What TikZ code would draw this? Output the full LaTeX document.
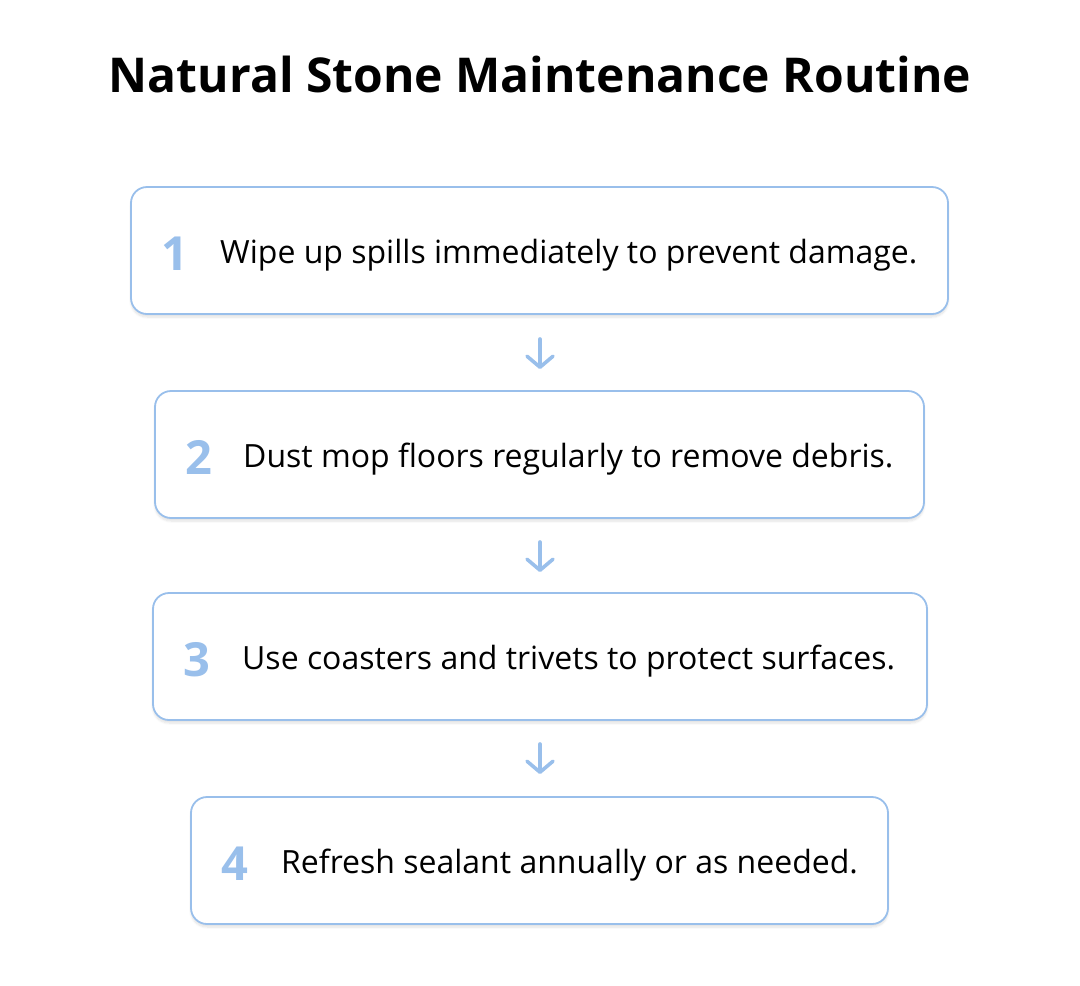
\documentclass[tikz,border=0pt]{standalone}
\usepackage{fontspec}
\setmainfont{Open Sans}
\usetikzlibrary{arrows.meta,shadows.blur}
\definecolor{bord}{HTML}{99BFEB}
\definecolor{numc}{HTML}{99BFEB}
\tikzset{
  stepbox/.style={draw=bord, line width=1.8pt, rounded corners=16pt, fill=white,
    blur shadow={shadow xshift=0pt, shadow yshift=-3pt, shadow blur steps=8, shadow opacity=12}},
  num/.style={font=\fontsize{47}{50}\selectfont\bfseries, text=numc, anchor=base, inner sep=0},
  lbl/.style={font=\fontsize{32}{38}\selectfont, anchor=base west, inner sep=0},
  flow/.style={draw=bord, line width=3.6pt, line cap=round, -{Straight Barb[length=11pt, width=26pt, line width=3.6pt, round]}}
}
\begin{document}
\begin{tikzpicture}[x=1pt, y=-1pt]
\useasboundingbox (0,0) rectangle (1080,986);
\node[font=\fontsize{48}{54}\selectfont\bfseries, inner sep=0, anchor=base] (title) at (540,92) {Natural Stone Maintenance Routine};

\draw[stepbox] (131,187) rectangle (948,314);
\draw[stepbox] (155,391) rectangle (924,518);
\draw[stepbox] (153,593) rectangle (927,720);
\draw[stepbox] (191,797) rectangle (888,924);

\node[num] (n1) at (175,270) {1};
\node[lbl] (t1) at (220,263) {Wipe up spills immediately to prevent damage.};
\node[num] (n2) at (199,474) {2};
\node[lbl] (t2) at (243,467) {Dust mop floors regularly to remove debris.};
\node[num] (n3) at (197,676) {3};
\node[lbl] (t3) at (242,669) {Use coasters and trivets to protect surfaces.};
\node[num] (n4) at (235,880) {4};
\node[lbl] (t4) at (281,873) {Refresh sealant annually or as needed.};

\coordinate (a1s) at (540,339); \coordinate (a1e) at (540,369);
\coordinate (a2s) at (540,542); \coordinate (a2e) at (540,572);
\coordinate (a3s) at (540,744); \coordinate (a3e) at (540,774);
\draw[flow] (a1s) -- (a1e);
\draw[flow] (a2s) -- (a2e);
\draw[flow] (a3s) -- (a3e);
\end{tikzpicture}
\end{document}
